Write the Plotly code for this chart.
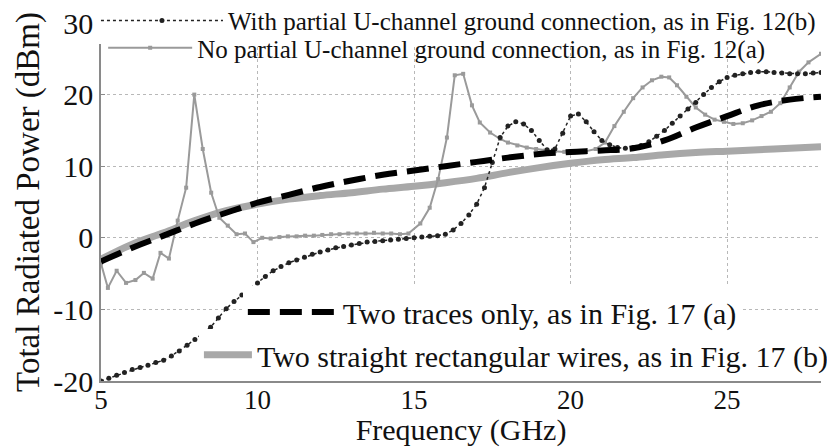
import plotly.graph_objects as go

# ---- data (frequency in GHz, total radiated power in dBm) ----
freq_with = [5.0, 5.25, 5.5, 5.75, 6.0, 6.25, 6.5, 6.75, 7.0, 7.25, 7.5, 7.75,
             8.0, 8.25, 8.5, 8.75, 9.0, 9.25, 9.5, 9.75, 10.0, 10.25, 10.5, 10.75,
             11.0, 11.25, 11.5, 11.75, 12.0, 12.25, 12.5, 12.75, 13.0, 13.25, 13.5, 13.75,
             14.0, 14.25, 14.5, 14.75, 15.0, 15.25, 15.5, 15.75, 16.0, 16.25, 16.5, 16.75,
             17.0, 17.25, 17.5, 17.75, 18.0, 18.25, 18.5, 18.75, 19.0, 19.25, 19.5, 19.75,
             20.0, 20.25, 20.5, 20.75, 21.0, 21.25, 21.5, 21.75, 22.0, 22.25, 22.5, 22.75,
             23.0, 23.25, 23.5, 23.75, 24.0, 24.25, 24.5, 24.75, 25.0, 25.25, 25.5, 25.75,
             26.0, 26.25, 26.5, 26.75, 27.0, 27.25, 27.5, 27.75, 28.0]
power_with = [-20.0, -19.6, -19.2, -18.8, -18.4, -18.1, -17.8, -17.4, -17.1, -16.5, -15.8, -15.0,
              -14.2, -13.4, -12.5, -11.2, -9.9, -8.9, -8.0, -7.1, -6.3, -5.4, -4.6, -4.0,
              -3.5, -3.1, -2.7, -2.3, -2.0, -1.7, -1.4, -1.2, -1.0, -0.8, -0.6, -0.5,
              -0.4, -0.3, -0.2, -0.1, 0.0, 0.1, 0.2, 0.3, 0.5, 1.1, 2.0, 3.2,
              4.7, 7.0, 10.5, 14.0, 15.6, 16.2, 15.9, 15.0, 13.6, 12.3, 12.4, 14.6,
              17.0, 17.3, 16.2, 14.8, 13.6, 13.0, 12.6, 12.5, 12.6, 12.9, 13.4, 14.2,
              15.0, 16.0, 17.0, 18.0, 18.9, 20.0, 21.0, 21.8, 22.4, 22.7, 22.9, 23.1,
              23.2, 23.2, 23.1, 23.0, 22.9, 22.9, 22.9, 23.0, 23.1]

freq_no = [5.0, 5.22, 5.5, 5.8, 6.1, 6.37, 6.65, 6.9, 7.17, 7.45, 7.72, 7.98,
           8.25, 8.52, 8.78, 9.05, 9.33, 9.6, 9.87, 10.15, 10.42, 10.7, 10.97, 11.25,
           11.52, 11.8, 12.07, 12.35, 12.62, 12.9, 13.17, 13.45, 13.72, 14.0, 14.27, 14.55,
           14.82, 15.2, 15.5, 15.77, 16.05, 16.3, 16.57, 16.85, 17.1, 17.43, 17.75, 18.0,
           18.3, 18.6, 18.9, 19.2, 19.5, 19.8, 20.1, 20.4, 20.8, 21.1, 21.4, 21.7,
           22.0, 22.3, 22.6, 22.9, 23.15, 23.4, 23.7, 24.0, 24.3, 24.6, 24.9, 25.2,
           25.5, 25.8, 26.1, 26.4, 26.7, 27.0, 27.3, 27.6, 28.0]
power_no = [-3.6, -7.0, -4.6, -6.3, -5.9, -4.9, -5.7, -2.1, -2.9, 2.4, 7.0, 20.0,
            12.4, 6.3, 2.8, 1.7, 0.5, 0.6, -0.6, 0.0, -0.1, 0.1, 0.2, 0.2,
            0.3, 0.3, 0.4, 0.5, 0.5, 0.6, 0.6, 0.6, 0.7, 0.6, 0.6, 0.5,
            0.6, 2.0, 4.2, 8.2, 14.0, 22.7, 22.9, 18.5, 16.1, 14.7, 13.8, 13.3,
            12.9, 12.6, 12.4, 12.2, 12.1, 12.0, 11.9, 12.0, 12.4, 13.3, 15.6, 17.6,
            19.5, 21.0, 22.0, 22.5, 22.4, 21.3, 19.7, 18.2, 17.2, 16.5, 16.2, 15.9,
            16.0, 16.4, 17.0, 17.6, 18.8, 21.0, 23.2, 24.5, 25.7]

freq_smooth = [5, 6, 7, 8, 9, 10, 11, 12, 13, 14, 15, 16,
               17, 18, 19, 20, 21, 22, 23, 24, 25, 26, 27, 28]
power_traces = [-3.3, -1.4, 0.3, 2.0, 3.5, 4.9, 6.0, 7.1, 8.0, 8.8, 9.4, 10.0,
                10.6, 11.2, 11.7, 12.0, 12.2, 12.5, 13.6, 15.4, 17.0, 18.5, 19.3, 19.7]
power_wires = [-3.0, -0.9, 0.7, 2.4, 3.8, 4.7, 5.4, 5.9, 6.3, 6.8, 7.2, 7.7,
               8.3, 9.1, 9.8, 10.4, 10.9, 11.2, 11.6, 11.9, 12.1, 12.3, 12.5, 12.7]

x_ticks = [5, 10, 15, 20, 25]
y_ticks = [-20, -10, 0, 10, 20, 30]

name_with = "With partial U-channel ground connection, as in Fig. 12(b)"
name_no = "No partial U-channel ground connection, as in Fig. 12(a)"
name_traces = "Two traces only, as in Fig. 17 (a)"
name_wires = "Two straight rectangular wires, as in Fig. 17 (b)"

SERIF = "Liberation Serif"
INK = "#111111"
GRAY = "#9a9a9a"

fig = go.Figure()

fig.add_trace(go.Scatter(
    x=freq_smooth, y=power_wires, name=name_wires, mode="lines",
    line=dict(color="#a8a8a8", width=7, shape="spline"), legend="legend4"))

fig.add_trace(go.Scatter(
    x=freq_no, y=power_no, name=name_no, mode="lines+markers",
    line=dict(color=GRAY, width=2),
    marker=dict(symbol="square", size=4, color=GRAY), legend="legend2"))

fig.add_trace(go.Scatter(
    x=freq_with, y=power_with, name=name_with, mode="lines+markers",
    line=dict(color="#222222", width=1.5, dash="dot"),
    marker=dict(symbol="circle", size=5, color="#222222"), legend="legend"))

fig.add_trace(go.Scatter(
    x=freq_smooth, y=power_traces, name=name_traces, mode="lines",
    line=dict(color="#000000", width=6, dash="22px,10px", shape="spline"),
    legend="legend3"))

legend_common = dict(borderwidth=0, xanchor="left", yanchor="middle", tracegroupgap=0)

fig.update_layout(
    width=827, height=447,
    margin=dict(l=101, r=6, t=23, b=66, autoexpand=False),
    paper_bgcolor="white", plot_bgcolor="white",
    font=dict(family=SERIF, color=INK),
    legend=dict(x=-0.007, y=1.006, itemwidth=122, bgcolor="white",
                font=dict(family=SERIF, size=25, color=INK), **legend_common),
    legend2=dict(x=0.003, y=0.930, itemwidth=84, bgcolor="rgba(255,255,255,0)",
                 font=dict(family=SERIF, size=25, color=INK), **legend_common),
    legend3=dict(x=0.197, y=0.193, itemwidth=90, bgcolor="white",
                 font=dict(family=SERIF, size=30, color=INK), **legend_common),
    legend4=dict(x=0.136, y=0.073, itemwidth=48, bgcolor="white",
                 font=dict(family=SERIF, size=30, color=INK), **legend_common),
    showlegend=True,
)

fig.update_xaxes(
    range=[5, 28], tickvals=x_ticks, ticktext=[str(v) for v in x_ticks],
    showline=True, linecolor="#8a8a8a", linewidth=1.5, mirror=False,
    ticks="inside", ticklen=4, tickcolor="#8a8a8a",
    showgrid=True, gridcolor="#b8b8b8", gridwidth=1, griddash="dot",
    zeroline=False,
    tickfont=dict(family=SERIF, size=27, color=INK), ticklabelstandoff=-6,
    title=dict(text="Frequency (GHz)", font=dict(family=SERIF, size=30, color=INK),
               standoff=11),
)
fig.update_yaxes(
    range=[-20, 30], tickvals=y_ticks, ticktext=[str(v) for v in y_ticks],
    showline=True, linecolor="#8a8a8a", linewidth=1.5, mirror=False,
    ticks="inside", ticklen=4, tickcolor="#8a8a8a",
    showgrid=True, gridcolor="#b8b8b8", gridwidth=1, griddash="dot",
    zeroline=False,
    tickfont=dict(family=SERIF, size=30, color=INK),
    title=dict(text="Total Radiated Power (dBm)",
               font=dict(family=SERIF, size=33, color=INK), standoff=4),
)

fig.write_html("out.html")
